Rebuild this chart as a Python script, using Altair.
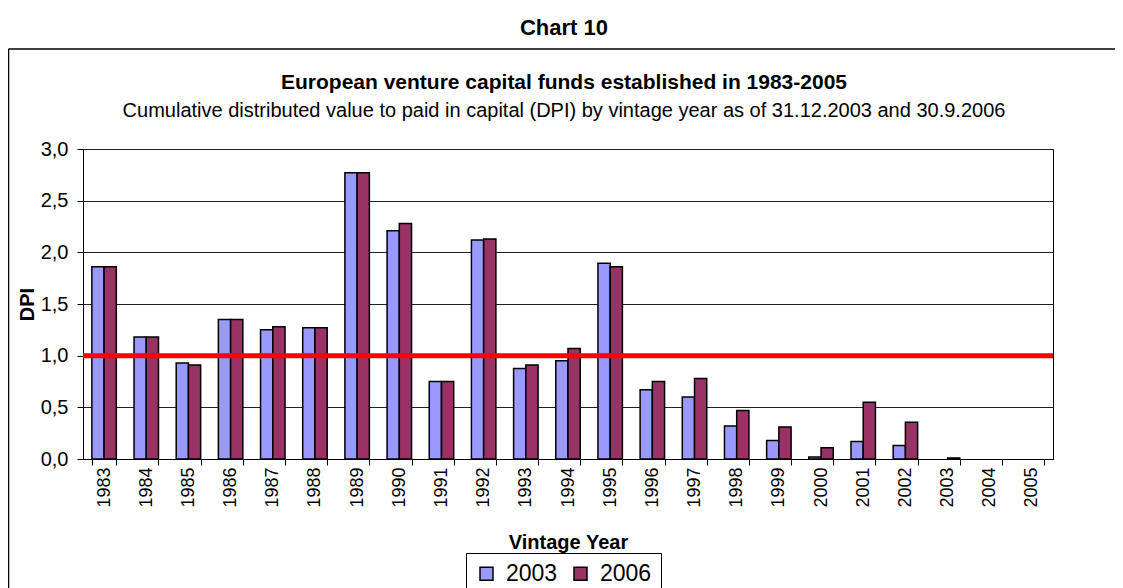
import altair as alt
import pandas as pd

years = [str(y) for y in range(1983, 2006)]
dpi_2003 = [1.86, 1.18, 0.93, 1.35, 1.25, 1.27, 2.77, 2.21, 0.75, 2.12, 0.875, 0.95,
            1.895, 0.67, 0.60, 0.32, 0.18, 0.02, 0.17, 0.13, None, None, None]
dpi_2006 = [1.86, 1.18, 0.91, 1.35, 1.28, 1.27, 2.77, 2.28, 0.75, 2.13, 0.91, 1.07,
            1.86, 0.75, 0.78, 0.47, 0.31, 0.11, 0.55, 0.355, 0.01, None, None]
series = ["2003", "2006"]
colors = ["#9999FF", "#993366"]
y_ticks = [0, 0.5, 1.0, 1.5, 2.0, 2.5, 3.0]

rows = []
for i, yr in enumerate(years):
    rows.append({"year": yr, "series": "2003", "dpi": dpi_2003[i]})
    rows.append({"year": yr, "series": "2006", "dpi": dpi_2006[i]})
df = pd.DataFrame(rows)

FONT = "Liberation Sans"
one = pd.DataFrame({"k": [0]})

bars = alt.Chart(df).mark_bar(stroke="black", strokeWidth=1.5).encode(
    x=alt.X("year:N", sort=years,
            scale=alt.Scale(paddingInner=0.42, paddingOuter=0.21),
            axis=alt.Axis(title="Vintage Year", labelAngle=270, labelFontSize=18,
                          labelPadding=2, tickSize=6, tickBand="extent",
                          tickColor="black", domainColor="black", labelColor="black",
                          titleFontSize=20, titleFontWeight="bold", titlePadding=25,
                          titleColor="black", labelFont=FONT, titleFont=FONT,
                          grid=False)),
    xOffset=alt.XOffset("series:N", scale=alt.Scale(paddingInner=0, paddingOuter=0)),
    y=alt.Y("dpi:Q", scale=alt.Scale(domain=[0, 3]),
            axis=alt.Axis(title="DPI", values=y_ticks,
                          labelExpr="replace(format(datum.value, '.1f'), '.', ',')",
                          labelFontSize=20, labelPadding=9, tickSize=6,
                          tickColor="black", domainColor="black", labelColor="black",
                          gridColor="#222222", gridWidth=1,
                          titleFontSize=20, titleFontWeight="bold", titlePadding=3,
                          titleColor="black", labelFont=FONT, titleFont=FONT)),
    color=alt.Color("series:N", scale=alt.Scale(domain=series, range=colors),
                    legend=alt.Legend(title=None, orient="none", legendX=383, legendY=404,
                                      direction="horizontal", symbolType="square",
                                      symbolSize=169, symbolStrokeColor="black",
                                      symbolStrokeWidth=1.5, symbolOpacity=1,
                                      labelFontSize=23, labelFont=FONT, labelColor="black",
                                      labelOffset=8, columnPadding=11,
                                      strokeColor="black", fillColor="white", padding=9)),
)

ref_line = alt.Chart(one).mark_rule(color="#FF0000", strokeWidth=5).encode(
    y=alt.datum(1.0)
)

chart_label = alt.Chart(one).mark_text(
    text="Chart 10", font=FONT, fontSize=22, fontWeight="bold", color="black",
    align="center", baseline="alphabetic"
).encode(x=alt.value(481), y=alt.value(-114))

main_title = alt.Chart(one).mark_text(
    text="European venture capital funds established in 1983-2005", font=FONT,
    fontSize=21, fontWeight="bold", color="black", align="center", baseline="alphabetic"
).encode(x=alt.value(481), y=alt.value(-60))

sub_title = alt.Chart(one).mark_text(
    text="Cumulative distributed value to paid in capital (DPI) by vintage year as of 31.12.2003 and 30.9.2006",
    font=FONT, fontSize=20, color="black", align="center", baseline="alphabetic"
).encode(x=alt.value(481), y=alt.value(-32))

frame_top = alt.Chart(one).mark_rule(color="black", strokeWidth=1.5).encode(
    x=alt.value(-74.5), x2=alt.value(1040), y=alt.value(-100)
)
frame_left = alt.Chart(one).mark_rule(color="black", strokeWidth=1.5).encode(
    x=alt.value(-74.5), y=alt.value(-100), y2=alt.value(445)
)

chart = alt.layer(
    frame_top, frame_left, bars, ref_line, chart_label, main_title, sub_title
).properties(
    width=970, height=310,
    autosize=alt.AutoSizeParams(type="none"),
    padding={"left": 75, "top": 141, "right": 62, "bottom": 129},
    background="white",
).configure_view(stroke="black", strokeWidth=1)

chart.save("out.html", embed_options={"renderer": "svg", "actions": False})
